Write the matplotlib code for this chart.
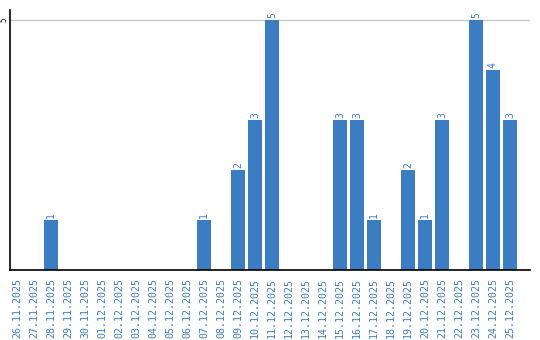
import matplotlib
matplotlib.use("Agg")
from matplotlib import pyplot as plt
import pandas as pd

dates = pd.date_range("2025-11-26", "2025-12-25").strftime("%d.%m.%Y").tolist()
counts = {
    "28.11.2025": 1, "07.12.2025": 1, "09.12.2025": 2, "10.12.2025": 3,
    "11.12.2025": 5, "15.12.2025": 3, "16.12.2025": 3, "17.12.2025": 1,
    "19.12.2025": 2, "20.12.2025": 1, "21.12.2025": 3, "23.12.2025": 5,
    "24.12.2025": 4, "25.12.2025": 3,
}
values = [counts.get(d, 0) for d in dates]

blue = "#3b7dc3"
fig = plt.figure(figsize=(5.4, 3.4), dpi=100)
ax = fig.add_axes([10 / 540, 1 - 270 / 340, 520 / 540, 260 / 340])

x = list(range(len(dates)))
bars = ax.bar(x, values, width=0.82, color=blue, zorder=2)
for xi, v in zip(x, values):
    if v:
        ax.text(xi, v + 0.04, str(v), rotation=90, ha="center", va="bottom",
                fontsize=7, color=blue, family="DejaVu Sans Mono")

ax.set_xlim(-0.41, 30.18)
ax.set_ylim(0, 5.2)
ax.set_yticks([5])
ax.set_yticklabels(["5"], rotation=90, va="center", fontsize=5.5,
                   family="DejaVu Sans Mono")
ax.set_xticks(x)
ax.set_xticklabels(dates, rotation=90, fontsize=7.2, color=blue,
                   family="DejaVu Sans Mono")
ax.tick_params(length=0, pad=6)
ax.tick_params(axis="y", pad=1)
ax.axhline(5, color="#c8c8c8", lw=1, zorder=1)
for s in ("top", "right"):
    ax.spines[s].set_visible(False)
ax.spines["left"].set_linewidth(1.2)
ax.spines["bottom"].set_linewidth(1.2)

fig.savefig("out.png", dpi=100)
